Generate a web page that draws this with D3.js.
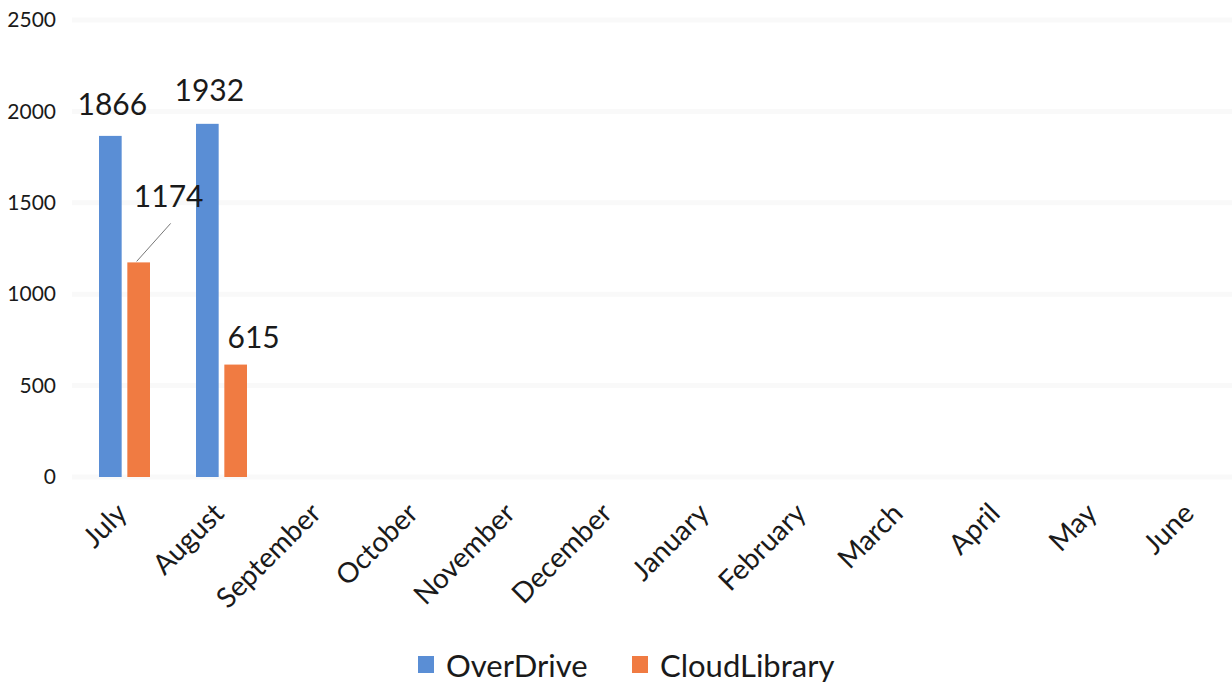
<!DOCTYPE html>
<html>
<head>
<meta charset="utf-8">
<script src="https://cdn.jsdelivr.net/npm/d3@7"></script>
<style>
  body { margin: 0; background: #fff; }
  text { font-family: Lato, "Open Sans", sans-serif; fill: #1a1a1a; }
</style>
</head>
<body>
<div id="chart"></div>
<script>
const months = ["July", "August", "September", "October", "November", "December",
  "January", "February", "March", "April", "May", "June"];
const seriesNames = ["OverDrive", "CloudLibrary"];
const overDrive = [1866, 1932];
const cloudLibrary = [1174, 615];
const yTicks = [0, 500, 1000, 1500, 2000, 2500];

const colors = { OverDrive: "#5a8ed5", CloudLibrary: "#f07b42" };

const width = 1232, height = 688;

const svg = d3.select("#chart").append("svg")
    .attr("width", width)
    .attr("height", height);

const x = d3.scaleBand().domain(months).range([76, 1240]);
const y = d3.scaleLinear().domain([0, 2500]).range([477, 20]);
const inner = d3.scaleBand().domain(seriesNames).range([23, 74]).paddingInner(0.2);

// faint gridlines
svg.append("g").selectAll("line")
    .data(yTicks)
    .enter().append("line")
    .attr("x1", 72).attr("x2", 1232)
    .attr("y1", d => y(d)).attr("y2", d => y(d))
    .style("stroke", "#f9f9f9")
    .style("stroke-width", 5);

// y axis labels
const yAxis = svg.append("g")
    .attr("transform", "translate(56,0)")
    .call(d3.axisLeft(y).tickValues(yTicks).tickFormat(d3.format("d")).tickSize(0).tickPadding(0));
yAxis.select(".domain").remove();
yAxis.selectAll("text")
    .style("font-size", "21px")
    .style("font-family", "Lato, sans-serif")
    .attr("fill", "#2a2a2a");

// month labels
const xAxis = svg.append("g")
    .attr("transform", "translate(0,477)")
    .call(d3.axisBottom(x).tickSize(0));
xAxis.select(".domain").remove();
xAxis.selectAll("text")
    .style("font-size", "28px")
    .style("font-family", "Lato, sans-serif")
    .attr("fill", "#111")
    .attr("text-anchor", "end")
    .attr("dy", 0)
    .attr("transform", "translate(2,36) rotate(-45)");

// bars
const rows = [];
overDrive.forEach((v, i) => rows.push({ month: months[i], series: "OverDrive", value: v }));
cloudLibrary.forEach((v, i) => rows.push({ month: months[i], series: "CloudLibrary", value: v }));

svg.append("g").selectAll("rect")
    .data(rows)
    .enter().append("rect")
    .attr("x", d => x(d.month) + inner(d.series))
    .attr("y", d => y(d.value))
    .attr("width", inner.bandwidth())
    .attr("height", d => y(0) - y(d.value))
    .style("fill", d => colors[d.series]);

// data labels (nudged like the original)
const nudge = {
  "July-OverDrive": [2, -21],
  "August-OverDrive": [2, -23],
  "July-CloudLibrary": [30, -55],
  "August-CloudLibrary": [18, -17]
};

svg.append("g").selectAll("text")
    .data(rows)
    .enter().append("text")
    .attr("x", d => x(d.month) + inner(d.series) + inner.bandwidth() / 2 + nudge[d.month + "-" + d.series][0])
    .attr("y", d => y(d.value) + nudge[d.month + "-" + d.series][1])
    .attr("text-anchor", "middle")
    .style("font-size", "30px")
    .text(d => d.value);

// leader line for the shifted 1174 label
const lead = rows.find(d => d.month === "July" && d.series === "CloudLibrary");
svg.append("line")
    .attr("x1", x(lead.month) + inner(lead.series) + inner.bandwidth() / 2 - 2)
    .attr("y1", y(lead.value) - 1)
    .attr("x2", x(lead.month) + inner(lead.series) + inner.bandwidth() / 2 + 32)
    .attr("y2", y(lead.value) - 39)
    .style("stroke", "#777")
    .style("stroke-width", 1);

// legend
const legend = svg.append("g").attr("transform", "translate(418,656)");
const legendX = [0, 214];
seriesNames.forEach((name, i) => {
  const item = legend.append("g").attr("transform", `translate(${legendX[i]},0)`);
  item.append("rect")
      .attr("width", 16).attr("height", 17)
      .style("fill", colors[name]);
  item.append("text")
      .attr("x", 28).attr("y", 21)
      .style("font-size", "31px")
      .text(name);
});
</script>
</body>
</html>
